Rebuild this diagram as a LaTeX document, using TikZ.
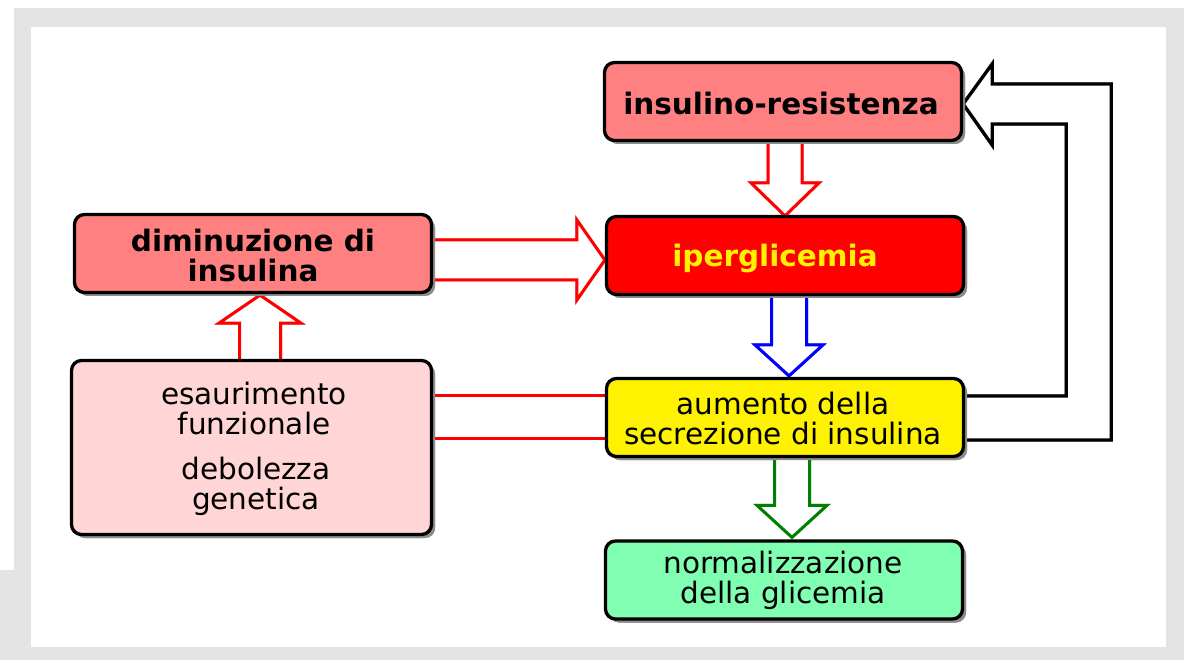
\documentclass[tikz,border=0pt]{standalone}
\usepackage{fontspec}
\setmainfont{DejaVu Sans}
\usetikzlibrary{shadows,calc}
\definecolor{framegray}{HTML}{E4E4E4}
\definecolor{salmon}{HTML}{FF8080}
\definecolor{pinkbox}{HTML}{FFD5D5}
\definecolor{yellowbox}{HTML}{FFF200}
\definecolor{mintbox}{HTML}{80FFB3}
\definecolor{arrgreen}{HTML}{008000}
\newcommand{\downblock}[6]{%
  \foreach \sh/\col in {2.5/#1!50,0/#1}{%
    \draw[line width=3pt,draw=\col,fill=white,xshift=\sh pt,yshift=-\sh pt]
      let \p1=(#2), \p2=(#3) in
      (\x2-#4pt,\y1) -- (\x2-#4pt,\y2+#6pt) -- (\x2-#5pt,\y2+#6pt) -- (\x2,\y2)
      -- (\x2+#5pt,\y2+#6pt) -- (\x2+#4pt,\y2+#6pt) -- (\x2+#4pt,\y1);
  }}
\newcommand{\upblock}[6]{%
  \foreach \sh/\col in {2.5/#1!50,0/#1}{%
    \draw[line width=3pt,draw=\col,fill=white,xshift=\sh pt,yshift=-\sh pt]
      let \p1=(#2), \p2=(#3) in
      (\x2-#4pt,\y1) -- (\x2-#4pt,\y2-#6pt) -- (\x2-#5pt,\y2-#6pt) -- (\x2,\y2)
      -- (\x2+#5pt,\y2-#6pt) -- (\x2+#4pt,\y2-#6pt) -- (\x2+#4pt,\y1);
  }}
\newcommand{\rightblock}[6]{%
  \foreach \sh/\col in {2.5/#1!50,0/#1}{%
    \draw[line width=3pt,draw=\col,fill=white,xshift=\sh pt,yshift=-\sh pt]
      let \p1=(#2), \p2=(#3) in
      (\x1,\y2+#4pt) -- (\x2-#6pt,\y2+#4pt) -- (\x2-#6pt,\y2+#5pt) -- (\x2,\y2)
      -- (\x2-#6pt,\y2-#5pt) -- (\x2-#6pt,\y2-#4pt) -- (\x1,\y2-#4pt);
  }}
\begin{document}
\begin{tikzpicture}[x=1pt,y=-1pt,
  box/.style={draw=black, line width=3.3pt, rounded corners=10pt,
    minimum width=357pt, minimum height=78pt, inner sep=0pt,
    drop shadow={shadow xshift=3.5pt, shadow yshift=-3.5pt, fill=black!45, opacity=1}},
  ghost/.style={box, draw=none, fill=none, drop shadow={opacity=0}},
  label/.style={align=center, inner sep=0pt, font=\fontsize{29.5}{30}\selectfont},
  boldlabel/.style={label, font=\fontsize{29.5}{30}\selectfont\bfseries}]
\path[use as bounding box, fill=white] (0,0) rectangle (1189,660);
\fill[framegray] (14,8) rectangle (1184,660);
\fill[framegray] (0,570) rectangle (14,660);
\fill[white] (31,27) rectangle (1166,647);

\path (783,101.5) coordinate (irc) (785,255.5) coordinate (ipc) (253,253.5) coordinate (dic)
      (251.5,447.5) coordinate (esc) (785,417.5) coordinate (auc) (784,580) coordinate (noc);

% invisible copies of the boxes, for the connector anchors
\node[ghost] (ir) at (irc) {};
\node[ghost] (ip) at (ipc) {};
\node[ghost] (di) at (dic) {};
\node[ghost, minimum width=360pt, minimum height=174pt] (es) at (esc) {};
\node[ghost] (au) at (auc) {};
\node[ghost] (no) at (noc) {};

% connectors
\downblock{red}{ir.south}{$(ip.north)+(0,1)$}{17}{34}{33}
\downblock{blue}{ip.south}{$(au.north)+(4,-1)$}{17.5}{34}{31}
\downblock{arrgreen}{au.south}{$(no.north)+(8,-2)$}{17.5}{35}{32}
\upblock{red}{es.north}{$(di.south)+(7,1)$}{20.5}{41}{28}
\rightblock{red}{di.east}{$(ip.west)+(0,4.5)$}{20}{40}{28}
\foreach \sh/\col in {2.5/red!50,0/red}{%
  \draw[line width=3pt,draw=\col,xshift=\sh pt,yshift=-\sh pt]
    let \p1=(es.east), \p2=(au.west) in
    (\x1,\y2+22.5pt) -- (\x2,\y2+22.5pt)
    (\x1,\y2-20.5pt) -- (\x2,\y2-20.5pt);
}
\foreach \sh/\col in {3/black!45,0/black}{%
  \draw[line width=3.3pt,draw=\col,fill=white,xshift=\sh pt,yshift=-\sh pt]
    let \p1=(au.east), \p2=($(ir.east)+(0,2.5)$) in
    (\x1,\y1-22.5pt) -- (\x1+146pt,\y1-22.5pt) -- (\x1+146pt,\y2+20pt)
    -- (\x2+29pt,\y2+20pt) -- (\x2+29pt,\y2+40pt) -- (\x2,\y2)
    -- (\x2+29pt,\y2-41pt) -- (\x2+29pt,\y2-20pt) -- (\x1+101pt,\y2-20pt)
    -- (\x1+101pt,\y1+21.5pt) -- (\x1,\y1+21.5pt);
}

% visible boxes
\node[box, fill=salmon] (irbox) at (irc) {};
\node[box, fill=red] (ipbox) at (ipc) {};
\node[box, fill=salmon] (dibox) at (dic) {};
\node[box, fill=pinkbox, minimum width=360pt, minimum height=174pt] (esbox) at (esc) {};
\node[box, fill=yellowbox] (aubox) at (auc) {};
\node[box, fill=mintbox] (nobox) at (noc) {};

% texts
\node[boldlabel] (irtext) at ($(irbox.center)+(-2,2.5)$) {insulino-resistenza};
\node[boldlabel, text=yellow] (iptext) at ($(ipbox.center)+(-10,3)$) {iperglicemia};
\node[boldlabel] (ditext) at ($(dibox.center)+(0,2)$) {diminuzione di\\insulina};
\node[label] (estext1) at ($(esbox.center)+(2.5,-39)$) {esaurimento\\funzionale};
\node[label] (estext2) at ($(esbox.center)+(4.5,39)$) {debolezza\\genetica};
\node[label] (autext) at ($(aubox.center)+(-2,1.5)$) {aumento della\\secrezione di insulina};
\node[label] (notext) at ($(nobox.center)+(-1,0.5)$) {normalizzazione\\della glicemia};
\end{tikzpicture}
\end{document}
